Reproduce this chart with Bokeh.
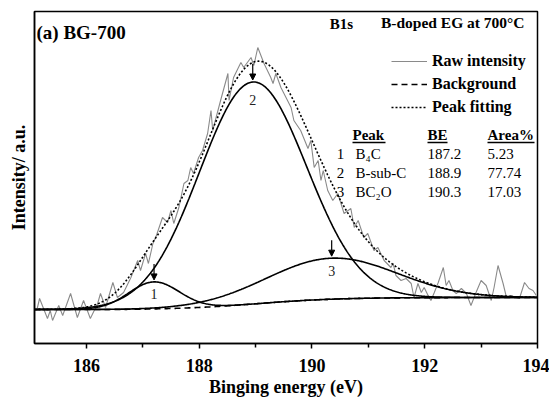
import numpy as np
from bokeh.plotting import figure
from bokeh.models import Range1d, FixedTicker, Arrow, NormalHead, Legend, LegendItem
from bokeh.core.properties import value
from bokeh.embed import file_html
from bokeh.resources import INLINE

# ---------------- data ----------------
raw_x = [185.12, 185.17, 185.31, 185.36, 185.40, 185.51, 185.58, 185.72, 185.84, 185.95,
         186.07, 186.20, 186.25, 186.34, 186.47, 186.55, 186.66, 186.79, 186.91, 186.96,
         187.05, 187.10, 187.18, 187.23,
         187.35, 187.44, 187.50, 187.55, 187.64, 187.73, 187.80, 187.85, 187.90, 187.99,
         188.06, 188.15, 188.21, 188.24, 188.38,
         188.51, 188.53, 188.61, 188.74, 188.79, 188.92, 188.97, 189.04, 189.15, 189.27,
         189.31, 189.36, 189.45, 189.54, 189.63, 189.68, 189.80,
         189.93, 189.98, 190.04, 190.11, 190.16, 190.20, 190.28, 190.37, 190.46, 190.57,
         190.69, 190.75, 190.82, 190.92, 190.99, 191.10, 191.17, 191.28, 191.40,
         191.44, 191.49, 191.58, 191.67, 191.76, 191.81, 191.88, 191.94, 191.99, 192.06,
         192.11, 192.17, 192.24, 192.33, 192.38, 192.43, 192.50, 192.56, 192.65, 192.74,
         192.82, 192.91, 193.00, 193.09, 193.18, 193.23, 193.30, 193.39, 193.45, 193.53,
         193.62, 193.68, 193.77, 193.85, 193.92, 193.98]
raw_y = [-1, 11, -9, -1, -11, 4, -6, 16, -8, 9,
         -9, 6, 16, 2, 27, 12, 17, 32, 49, 39,
         56, 46, 66, 72,
         92, 87, 99, 86, 102, 126, 129, 142, 136, 152,
         159, 176, 199, 179, 209,
         236, 209, 232, 247, 242, 252, 244, 262, 246, 232,
         226, 236, 222, 212, 202, 189, 179,
         161, 169, 142, 149, 129, 139, 119, 109, 116, 96,
         101, 82, 89, 72, 76, 59, 62, 49, 42,
         46, 34, 29, 31, 26, 12, 26, 17, 22, 14,
         9, 17, 27, 42, 24, 29, 19, 16, 21, 16,
         4, 17, 29, 24, 9, 22, 44, 26, 12, 14,
         12, 11, 27, 21, 19, 14]
n = min(len(raw_x), len(raw_y))
raw_x, raw_y = raw_x[:n], raw_y[:n]

peak_ids = ["1", "2", "3"]
peak_names = ["B\u2084C", "B-sub-C", "BC\u2082O"]
peak_be = [187.2, 188.9, 190.3]
peak_area = ["5.23", "77.74", "17.03"]
peak_center = [187.2, 188.95, 190.35]
peak_height = [27, 222, 41]
peak_sigma = [0.45, 0.95, 1.15]
bg_step = 12.0

x_ticks = [186, 188, 190, 192, 194]
x_minor = [185, 187, 189, 191, 193]

# ---------------- curves ----------------
xf = np.linspace(185.08, 194.0, 600)
comps = [h * np.exp(-(xf - c) ** 2 / (2 * s ** 2)) for c, h, s in zip(peak_center, peak_height, peak_sigma)]
total = sum(comps)
cum = np.cumsum(total)
bg = bg_step * cum / cum[-1]
fit = total + bg

FONT = "Liberation Serif"

p = figure(frame_width=503, frame_height=332, output_backend="svg", toolbar_location=None,
           x_range=Range1d(185.08, 194.0), y_range=Range1d(-34, 298),
           min_border_left=34, min_border_top=11, min_border_right=12, min_border_bottom=10)
p.background_fill_color = "white"
p.border_fill_color = "white"
p.outline_line_color = "black"
p.outline_line_width = 1.5
p.xgrid.visible = False
p.ygrid.visible = False

# axes
p.xaxis.ticker = FixedTicker(ticks=x_ticks, minor_ticks=x_minor)
p.xaxis.major_tick_out = 5
p.xaxis.major_tick_in = 0
p.xaxis.minor_tick_out = 4
p.xaxis.minor_tick_in = 0
p.xaxis.axis_line_width = 1.5
p.xaxis.major_tick_line_width = 1.5
p.xaxis.minor_tick_line_width = 1.5
p.xaxis.major_label_text_font = FONT
p.xaxis.major_label_text_font_style = "bold"
p.xaxis.major_label_text_font_size = "18px"
p.xaxis.major_label_text_color = "black"
p.xaxis.major_label_standoff = 10
p.xaxis.axis_label = "Binging energy (eV)"
p.xaxis.axis_label_text_font = FONT
p.xaxis.axis_label_text_font_style = "bold"
p.xaxis.axis_label_text_font_size = "18px"
p.xaxis.axis_label_text_color = "black"
p.xaxis.axis_label_standoff = 2

p.yaxis.ticker = FixedTicker(ticks=[])
p.yaxis.major_tick_out = 0
p.yaxis.minor_tick_out = 0
p.yaxis.axis_line_width = 1.5
p.yaxis.major_label_text_font_size = "0px"
p.yaxis.axis_label = "Intensity/ a.u."
p.yaxis.axis_label_text_font = FONT
p.yaxis.axis_label_text_font_style = "bold"
p.yaxis.axis_label_text_font_size = "18px"
p.yaxis.axis_label_text_color = "black"
p.yaxis.axis_label_standoff = 6

# lines
r_raw = p.line(raw_x, raw_y, line_color="#8a8a8a", line_width=1.1)
for c in comps:
    p.line(xf, c + bg, line_color="black", line_width=1.6)
r_bg = p.line(xf, bg, line_color="black", line_width=1.6, line_dash="6 4")
r_fit = p.line(xf, fit, line_color="black", line_width=1.6, line_dash="2 2")

legend = Legend(items=[LegendItem(label="Raw intensity", renderers=[r_raw]),
                       LegendItem(label="Background", renderers=[r_bg]),
                       LegendItem(label="Peak fitting", renderers=[r_fit])],
                location=(357, 226), padding=0, margin=0, spacing=3,
                glyph_width=36, glyph_height=20, label_height=20, label_standoff=5,
                border_line_color=None, background_fill_alpha=0,
                label_text_font=FONT, label_text_font_style="bold",
                label_text_font_size="16px", label_text_color="black")
p.add_layout(legend)

# helpers: px positions -> data (for annotation text only)
def dx(px):
    return 185.08 + (px - 34) / (503 / 8.92)

def dy(py):
    return 309 - py

def txt(x, y, s, size, bold=False, align="left"):
    p.text(x=[x], y=[y], text=[s], text_font=value(FONT), text_font_size=size,
           text_font_style="bold" if bold else "normal", text_align=align,
           text_baseline="middle", text_color="black")

txt(dx(36), dy(32), "(a) BG-700", "19px", bold=True)
txt(dx(341), dy(23), "B1s", "15px", bold=True, align="center")
txt(dx(524), dy(22), "B-doped EG at 700\u00b0C", "15.5px", bold=True, align="right")

# table
heads = [("Peak", 352, 385), ("BE", 427, 447), ("Area%", 487, 534)]
for s, x0, x1 in heads:
    txt(dx(x0), dy(134), s, "15px", bold=True)
    p.line([dx(x0), dx(x1)], [dy(142), dy(142)], line_color="black", line_width=1.3)
row_mid = [153, 172.5, 191]
for i in range(3):
    yb = dy(row_mid[i])
    txt(dx(340), yb, peak_ids[i], "15px", align="center")
    txt(dx(355), yb, peak_names[i], "15px")
    txt(dx(427), yb, f"{peak_be[i]:.1f}", "15px")
    txt(dx(487), yb, peak_area[i], "15px")

# peak markers: arrows and numbers
label_drop = [12, 18, 13]
for i in range(3):
    c = peak_center[i]
    idx = int(np.argmin(np.abs(xf - c)))
    top = comps[i][idx] + bg[idx]
    p.add_layout(Arrow(end=NormalHead(size=6, fill_color="black", line_color="black"),
                       x_start=c, y_start=top + 18, x_end=c, y_end=top + 2,
                       line_color="black", line_width=1.2))
    p.text(x=[c], y=[top - label_drop[i]], text=[peak_ids[i]], text_font=value(FONT),
           text_font_size="14px", text_align="center", text_baseline="middle",
           text_color="#222222")

open("out.html", "w").write(file_html(p, INLINE))
